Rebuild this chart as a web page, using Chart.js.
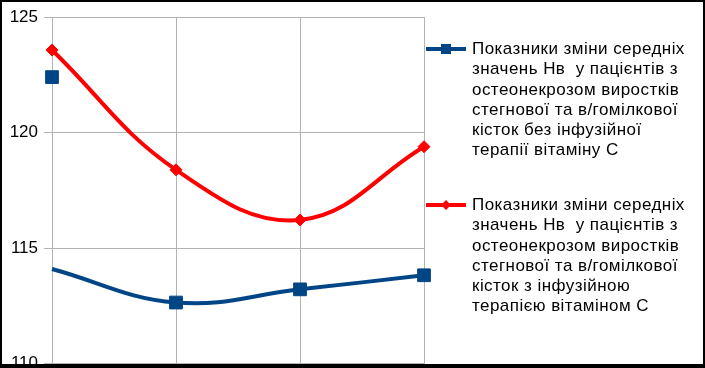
<!DOCTYPE html>
<html>
<head>
<meta charset="utf-8">
<script src="https://cdn.jsdelivr.net/npm/chart.js"></script>
<style>
  body { margin: 0; background: #fff; }
  #wrap { position: relative; width: 705px; height: 368px; overflow: hidden; font-family: "Liberation Sans", Arial, sans-serif; }
  #frame { position: absolute; left: 0; top: 0; width: 705px; height: 368px; box-sizing: border-box; border: 2px solid #000; border-bottom-width: 4px; pointer-events: none; }
  canvas { position: absolute; left: 0; top: 0; }
  .leg { position: absolute; left: 426px; font-size: 17px; letter-spacing: 0.45px; line-height: 20.3px; color: #000; white-space: pre; }
  .leg svg { position: absolute; left: 0; top: 0; }
  .leg div { margin-left: 46px; }
</style>
</head>
<body>
<div id="wrap">
  <canvas id="myChart" width="705" height="380"></canvas>
  <div class="leg" id="leg0" style="top:39px"></div>
  <div class="leg" id="leg1" style="top:195px"></div>
  <div id="frame"></div>
</div>
<script>
var categories = ['1', '2', '3', '4'];
var withoutVitC = [114.1, 112.65, 113.22, 113.83];
var withoutVitCFirst = [122.4, null, null, null];
var withVitC = [123.57, 118.39, 116.22, 119.39];
var yTicks = [110, 115, 120, 125];

var label0 = ['Показники зміни середніх', 'значень Нв  у пацієнтів з', 'остеонекрозом виростків',
    'стегнової та в/гомілкової', 'кісток без інфузійної', 'терапії вітаміну С'];
var label1 = ['Показники зміни середніх', 'значень Нв  у пацієнтів з', 'остеонекрозом виростків',
    'стегнової та в/гомілкової', 'кісток з інфузійною', 'терапією вітаміном С'];

var blue = '#004586';
var red = '#ff0000';
var grid = '#b3b3b3';

var ctx = document.getElementById('myChart');
var myChart = new Chart(ctx, {
    type: 'line',
    data: {
        labels: categories,
        datasets: [{
            label: label0.join(' '),
            data: withoutVitC,
            borderColor: blue,
            backgroundColor: blue,
            borderWidth: 4,
            tension: 0.4,
            pointStyle: 'rect',
            pointRadius: [0, 9, 9, 9],
            pointBorderWidth: 1
        }, {
            label: '',
            data: withoutVitCFirst,
            borderColor: blue,
            backgroundColor: blue,
            showLine: false,
            pointStyle: 'rect',
            pointRadius: 9,
            pointBorderWidth: 1
        }, {
            label: label1.join(' '),
            data: withVitC,
            borderColor: red,
            backgroundColor: red,
            borderWidth: 4,
            tension: 0.4,
            pointStyle: 'rectRot',
            pointRadius: 6,
            pointBorderWidth: 1
        }]
    },
    options: {
        responsive: false,
        animation: false,
        layout: { padding: { left: 0, right: 281, top: 17, bottom: 5 } },
        plugins: {
            legend: { display: false },
            tooltip: { enabled: false }
        },
        scales: {
            x: {
                offset: false,
                ticks: { display: false },
                grid: { color: grid, drawTicks: false },
                border: { display: false },
                afterFit: function(s) { s.height = 0; }
            },
            y: {
                min: 110,
                max: 125,
                afterBuildTicks: function(s) { s.ticks = yTicks.map(function(v) { return { value: v }; }); },
                ticks: {
                    color: '#000',
                    padding: 6,
                    font: { family: 'Liberation Sans', size: 17 }
                },
                grid: { color: grid, tickLength: 8, tickColor: grid },
                border: { display: false },
                afterFit: function(s) { s.width = 52; }
            }
        }
    }
});

function legend(id, lines, color, style) {
    var el = document.getElementById(id);
    var mark = style === 'rect'
        ? '<rect x="15" y="5" width="10" height="10" fill="' + color + '"/>'
        : '<polygon points="20,5 25,10 20,15 15,10" fill="' + color + '"/>';
    el.innerHTML = '<svg width="42" height="20"><line x1="0" y1="10" x2="40" y2="10" stroke="' + color +
        '" stroke-width="4"/>' + mark + '</svg>' + lines.map(function(t) { return '<div>' + t + '</div>'; }).join('');
}
legend('leg0', label0, blue, 'rect');
legend('leg1', label1, red, 'rectRot');
</script>
</body>
</html>
